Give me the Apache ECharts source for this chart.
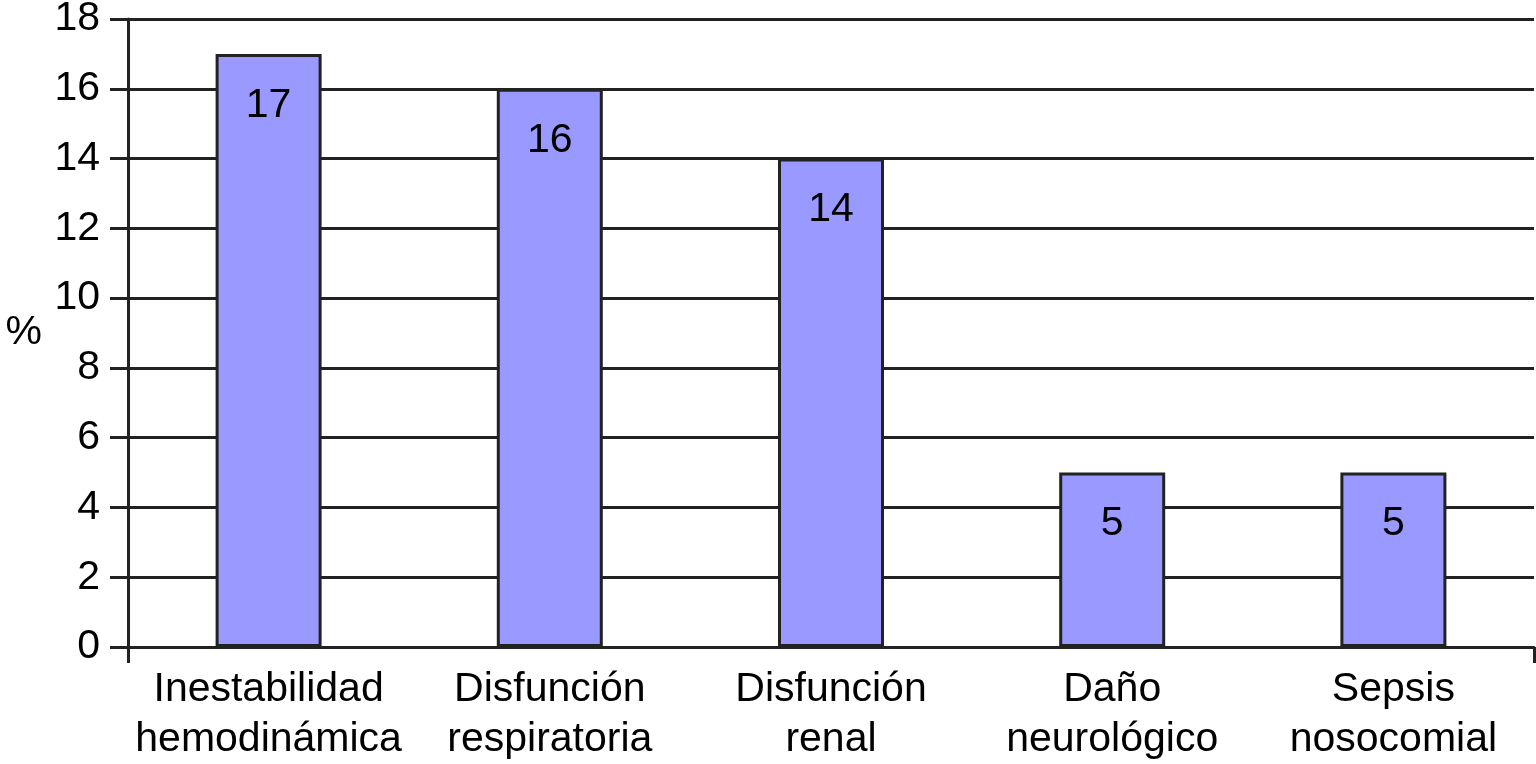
<!DOCTYPE html>
<html>
<head>
<meta charset="utf-8">
<script src="https://cdn.jsdelivr.net/npm/echarts@6/dist/echarts.min.js"></script>
<style>html,body{margin:0;padding:0;background:#fff}#c{width:1536px;height:764px}</style>
</head>
<body>
<div id="c"></div>
<script>
const categories = ['Inestabilidad\nhemodinámica', 'Disfunción\nrespiratoria', 'Disfunción\nrenal', 'Daño\nneurológico', 'Sepsis\nnosocomial'];
const values = [17, 16, 14, 5, 5];
const yMin = 0, yMax = 18, yStep = 2;
const yName = '%';

const font = 'Liberation Sans, Arial, Helvetica, sans-serif';
const dark = '#222222';
const fs = 41;
const chart = echarts.init(document.getElementById('c'), null, {renderer: 'canvas'});
chart.setOption({
  animation: false,
  grid: {left: 128, right: 2, top: 19, bottom: 117, containLabel: false, outerBoundsMode: 'none'},
  xAxis: [{
    type: 'category',
    data: categories,
    axisLine: {show: true, lineStyle: {color: dark, width: 3}},
    axisTick: {show: false},
    axisLabel: {color: '#000', fontFamily: font, fontSize: fs, lineHeight: 50, margin: 18, interval: 0}
  }, {
    type: 'value', min: 0, max: 1, interval: 1, position: 'bottom',
    axisLine: {show: false},
    axisTick: {show: true, length: 16, lineStyle: {color: dark, width: 3}},
    axisLabel: {show: false},
    splitLine: {show: false}
  }],
  yAxis: {
    type: 'value', min: yMin, max: yMax, interval: yStep,
    name: yName, nameLocation: 'middle', nameRotate: 0, nameGap: 86,
    nameTextStyle: {color: '#000', fontFamily: font, fontSize: fs},
    axisLine: {show: true, lineStyle: {color: dark, width: 3}},
    axisTick: {show: true, length: 18, lineStyle: {color: dark, width: 3}},
    axisLabel: {color: '#000', fontFamily: font, fontSize: fs, margin: 28},
    splitLine: {show: true, lineStyle: {color: dark, width: 3}}
  },
  series: [{
    type: 'bar',
    xAxisIndex: 0,
    data: values,
    barWidth: 106,
    itemStyle: {color: '#9999FF', borderColor: dark, borderWidth: 3},
    label: {show: true, position: 'insideTop', distance: 31, color: '#000', fontFamily: font, fontSize: fs}
  }]
});
</script>
</body>
</html>
